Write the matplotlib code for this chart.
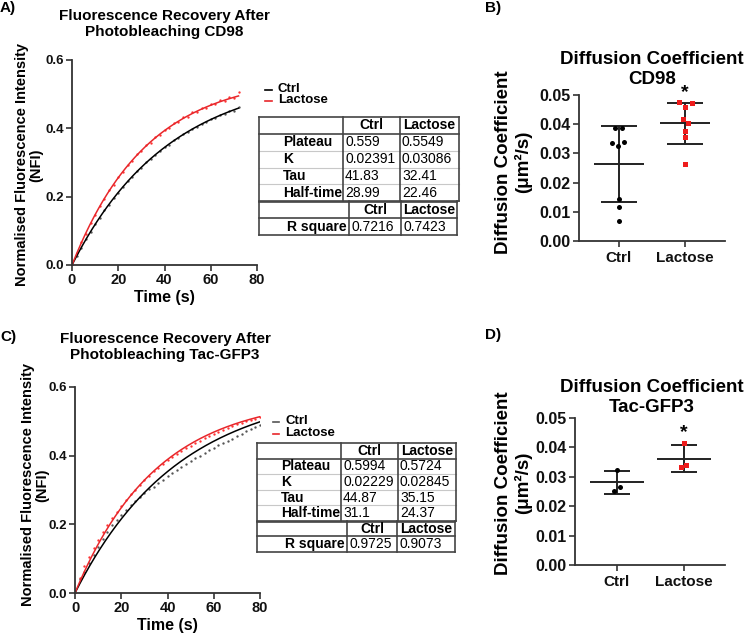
import numpy as np
import matplotlib
matplotlib.use('Agg')
import matplotlib.pyplot as plt

plt.rcParams['font.family'] = ['Liberation Sans', 'DejaVu Sans']
plt.rcParams['font.weight'] = 'bold'

W, H = 745, 633

#------------------ Datos
groups = ['Ctrl', 'Lactose']
param_names = ['Plateau', 'K', 'Tau', 'Half-time']

# FRAP CD98 (panel A)
a_params_ctrl = [0.559, 0.02391, 41.83, 28.99]
a_params_lac  = [0.5549, 0.03086, 32.41, 22.46]
a_r2          = [0.7216, 0.7423]
a_time        = np.arange(0, 73, 2)
a_ctrl = [0.000, 0.027, 0.050, 0.076, 0.097, 0.120, 0.139, 0.160, 0.177, 0.196,
          0.211, 0.229, 0.245, 0.258, 0.274, 0.285, 0.300, 0.310, 0.323, 0.333,
          0.346, 0.352, 0.365, 0.371, 0.383, 0.388, 0.399, 0.404, 0.413, 0.418,
          0.427, 0.430, 0.439, 0.442, 0.451, 0.452, 0.461]
a_lac  = [0.000, 0.035, 0.066, 0.092, 0.123, 0.146, 0.174, 0.193, 0.219, 0.235,
          0.258, 0.272, 0.293, 0.304, 0.325, 0.333, 0.352, 0.358, 0.376, 0.381,
          0.396, 0.401, 0.415, 0.418, 0.432, 0.433, 0.447, 0.448, 0.459, 0.460,
          0.471, 0.472, 0.482, 0.479, 0.493, 0.488, 0.505]

# FRAP Tac-GFP3 (panel C)
c_params_ctrl = [0.5994, 0.02229, 44.87, 31.1]
c_params_lac  = [0.5724, 0.02845, 35.15, 24.37]
c_r2          = [0.9725, 0.9073]
c_time        = np.arange(0, 81, 2)
c_ctrl = [0.000, 0.040, 0.062, 0.088, 0.112, 0.135, 0.156, 0.178, 0.197, 0.212,
          0.228, 0.242, 0.255, 0.268, 0.280, 0.290, 0.302, 0.310, 0.320, 0.330,
          0.340, 0.349, 0.358, 0.366, 0.376, 0.384, 0.392, 0.400, 0.407, 0.416,
          0.422, 0.430, 0.436, 0.444, 0.450, 0.458, 0.464, 0.471, 0.477, 0.484,
          0.490]
c_lac  = [0.000, 0.045, 0.078, 0.104, 0.130, 0.155, 0.178, 0.198, 0.218, 0.236,
          0.254, 0.270, 0.287, 0.301, 0.316, 0.329, 0.342, 0.354, 0.365, 0.376,
          0.386, 0.396, 0.404, 0.413, 0.421, 0.429, 0.437, 0.444, 0.451, 0.457,
          0.464, 0.470, 0.476, 0.481, 0.487, 0.491, 0.496, 0.500, 0.505, 0.508,
          0.512]

# Coeficiente de difusion CD98 (panel B)
b_ctrl = [0.0388, 0.0388, 0.0335, 0.0326, 0.0340, 0.0144, 0.0115, 0.0070]
b_lac  = [0.0477, 0.0472, 0.0458, 0.0418, 0.0403, 0.0378, 0.0357, 0.0263]
b_mean = [0.0264, 0.0403]
b_sd   = [0.0131, 0.0071]

# Coeficiente de difusion Tac-GFP3 (panel D)
d_ctrl = [0.0324, 0.0265, 0.0253]
d_lac  = [0.0415, 0.0335, 0.0339]
d_mean = [0.0281, 0.0362]
d_sd   = [0.0038, 0.0045]

# desplazamiento horizontal de los puntos (px)
b_ctrl_jit = [-4, 3, -7, -1, 5, 0, 0, 0]
b_lac_jit  = [-6, 7, 0, -2, 3, 0, 0, 0]
d_ctrl_jit = [0, 3, -3]
d_lac_jit  = [0, -3, 2]

SPINE = '#333333'


def add_ax(l, r, t, b):
    return fig.add_axes([l/W, 1-b/H, (r-l)/W, (b-t)/H])


def style_ax(ax, tick_size):
    for s in ['top', 'right']:
        ax.spines[s].set_visible(False)
    for s in ['left', 'bottom']:
        ax.spines[s].set_color(SPINE)
        ax.spines[s].set_linewidth(1.3)
    ax.tick_params(colors=SPINE, width=1.2, length=4, labelsize=tick_size,
                   labelcolor='#111111', pad=2)
    for lab in ax.get_xticklabels() + ax.get_yticklabels():
        lab.set_fontweight('bold')


def txt(x, y, s, **kw):
    fig.text(x/W, 1-y/H, s, **kw)


def frap_panel(ax, t, ctrl, lac, p_ctrl, p_lac, tmax):
    tt = np.linspace(0, tmax, 300)
    ax.plot(t, ctrl, 'o', color='#555555', ms=1.7, mew=0)
    ax.plot(t, lac, 'o', color='#ff3333', ms=1.7, mew=0)
    ax.plot(tt, p_ctrl[0]*(1-np.exp(-p_ctrl[1]*tt)), color='black', lw=1.1)
    ax.plot(tt, p_lac[0]*(1-np.exp(-p_lac[1]*tt)), color='#e8262a', lw=1.1)
    ax.set_xlim(0, 80)
    ax.set_ylim(0, 0.6)
    ax.set_xticks([0, 20, 40, 60, 80])
    ax.set_yticks([0, 0.2, 0.4, 0.6])
    ax.set_yticklabels(['0.0', '0.2', '0.4', '0.6'])
    style_ax(ax, 9.5)
    ax.tick_params(axis='x', labelsize=10.5)
    ax.set_xlabel('Time (s)', fontsize=11.5, fontweight='bold', labelpad=2)


def draw_table(x0, x1, xa, xb, x1b, xab, xbb, ytop, ybot, p_ctrl, p_lac, r2):
    h = (ybot - ytop) / 7.0
    dark = dict(color='#444444', lw=1.2)
    light = dict(color='#c8c8c8', lw=0.8)
    def hl(y, xl, xr, **kw):
        fig.add_artist(plt.Line2D([xl/W, xr/W], [1-y/H, 1-y/H], **kw))
    def vl(x, yt, yb, **kw):
        fig.add_artist(plt.Line2D([x/W, x/W], [1-yt/H, 1-yb/H], **kw))
    y5 = ytop + 5*h
    hl(ytop, x0, x1, **dark)
    hl(ytop + h, x0, x1, **dark)
    for k in range(2, 5):
        hl(ytop + k*h, x0, x1, **light)
    hl(y5, x0, x1, **dark)
    hl(y5 + 1.2, x0, x1b, **dark)
    hl(ytop + 6*h, x0, x1b, **dark)
    hl(ybot, x0, x1b, **dark)
    vl(x0, ytop, ybot, **dark)
    vl(x1, ytop, y5, **dark)
    vl(x1b, y5, ybot, **dark)
    vl(xa, ytop, y5, **dark)
    vl(xb, ytop, y5, **dark)
    vl(xab, y5, ybot, **dark)
    vl(xbb, y5, ybot, **dark)
    fs = 10
    txt((xa+xb)/2, ytop + h/2, groups[0], ha='center', va='center', fontsize=fs, fontweight='bold')
    txt((xb+x1)/2, ytop + h/2, groups[1], ha='center', va='center', fontsize=fs, fontweight='bold')
    for k, name in enumerate(param_names):
        yc = ytop + (k+1.5)*h
        txt(x0 + 24, yc, name, ha='left', va='center', fontsize=fs, fontweight='bold')
        txt(xa + 2, yc, str(p_ctrl[k]), ha='left', va='center', fontsize=fs, fontweight='normal')
        txt(xb + 2, yc, str(p_lac[k]), ha='left', va='center', fontsize=fs, fontweight='normal')
    txt((xab+xbb)/2, ytop + 5.5*h, groups[0], ha='center', va='center', fontsize=fs, fontweight='bold')
    txt((xbb+x1b)/2, ytop + 5.5*h, groups[1], ha='center', va='center', fontsize=fs, fontweight='bold')
    txt(xab - 2, ytop + 6.5*h, 'R square', ha='right', va='center', fontsize=fs, fontweight='bold')
    txt(xab + 2, ytop + 6.5*h, str(r2[0]), ha='left', va='center', fontsize=fs, fontweight='normal')
    txt(xbb + 2, ytop + 6.5*h, str(r2[1]), ha='left', va='center', fontsize=fs, fontweight='normal')


def scatter_panel(ax, ctrl, lac, cj, lj, mean, sd, ppu, hw, cw):
    ax.plot(np.array(cj)/ppu, ctrl, 'o', color='black', ms=3.6, mew=0, zorder=3)
    ax.plot(1 + np.array(lj)/ppu, lac, 's', color='#ee1c1c', ms=3.6, mew=0, zorder=3)
    for i in range(2):
        ax.hlines(mean[i], i - hw/ppu, i + hw/ppu, color='#222222', lw=1.4)
        ax.vlines(i, mean[i] - sd[i], mean[i] + sd[i], color='#222222', lw=1.4)
        ax.hlines([mean[i] - sd[i], mean[i] + sd[i]], i - cw/ppu, i + cw/ppu,
                  color='#222222', lw=1.4)
    ax.set_ylim(0, 0.05)
    ax.set_yticks([0, 0.01, 0.02, 0.03, 0.04, 0.05])
    ax.set_yticklabels(['0.00', '0.01', '0.02', '0.03', '0.04', '0.05'])
    ax.set_xticks([0, 1])
    ax.set_xticklabels(groups)
    style_ax(ax, 11.5)
    ax.tick_params(axis='x', length=4, labelsize=11, pad=3)


fig = plt.figure(figsize=(W/100, H/100), dpi=100)

#------------------ Panel A
axA = add_ax(72, 257, 60, 265)
frap_panel(axA, a_time, a_ctrl, a_lac, a_params_ctrl, a_params_lac, 72)
txt(164, 24, 'Fluorescence Recovery After\nPhotobleaching CD98', ha='center', va='center',
    fontsize=11, fontweight='bold', linespacing=1.15)
txt(29, 165, 'Normalised Fluorescence Intensity\n(NFI)', ha='center', va='center',
    rotation=90, fontsize=10.5, fontweight='bold', linespacing=1.05)
txt(0, 8, 'A)', ha='left', va='center', fontsize=11, fontweight='bold')
fig.add_artist(plt.Line2D([265/W, 272/W], [1-90/H]*2, color='black', lw=1.2))
fig.add_artist(plt.Line2D([265/W, 272/W], [1-101/H]*2, color='#e8262a', lw=1.2))
txt(278, 89, groups[0], ha='left', va='center', fontsize=9.5, fontweight='bold')
txt(278, 100, groups[1], ha='left', va='center', fontsize=9.5, fontweight='bold')
draw_table(259, 459, 343, 400, 457, 349, 401, 117, 235, a_params_ctrl, a_params_lac, a_r2)

#------------------ Panel C
axC = add_ax(75, 260, 387, 593)
frap_panel(axC, c_time, c_ctrl, c_lac, c_params_ctrl, c_params_lac, 80)
txt(165, 347, 'Fluorescence Recovery After\nPhotobleaching Tac-GFP3', ha='center', va='center',
    fontsize=11, fontweight='bold', linespacing=1.15)
txt(35, 485, 'Normalised Fluorescence Intensity\n(NFI)', ha='center', va='center',
    rotation=90, fontsize=10.5, fontweight='bold', linespacing=1.05)
txt(0, 337, 'C)', ha='left', va='center', fontsize=11, fontweight='bold')
fig.add_artist(plt.Line2D([273/W, 279/W], [1-422/H]*2, color='#555555', lw=1.2))
fig.add_artist(plt.Line2D([273/W, 279/W], [1-434/H]*2, color='#e8262a', lw=1.2))
txt(285, 421, groups[0], ha='left', va='center', fontsize=9.5, fontweight='bold')
txt(285, 433, groups[1], ha='left', va='center', fontsize=9.5, fontweight='bold')
draw_table(257, 456, 341, 398, 455, 347, 397, 443, 552, c_params_ctrl, c_params_lac, c_r2)

#------------------ Panel B
axB = add_ax(579, 725, 95, 241)
scatter_panel(axB, b_ctrl, b_lac, b_ctrl_jit, b_lac_jit, b_mean, b_sd, 66, 25, 18)
axB.set_xlim(-40/66, 106/66)
axB.text(1, 0.0507, '*', ha='center', va='center', fontsize=14, fontweight='bold')
txt(652, 60, 'Diffusion Coefficient', ha='center', va='center', fontsize=13.5, fontweight='bold')
txt(652, 79, 'CD98', ha='center', va='center', fontsize=13.5, fontweight='bold')
txt(514, 162, 'Diffusion Coefficient\n(μm²/s)', ha='center', va='center', rotation=90,
    fontsize=13.5, fontweight='bold', linespacing=1.15)
txt(485, 8, 'B)', ha='left', va='center', fontsize=11, fontweight='bold')

#------------------ Panel D
axD = add_ax(575, 725, 418, 565)
scatter_panel(axD, d_ctrl, d_lac, d_ctrl_jit, d_lac_jit, d_mean, d_sd, 67, 27, 13)
axD.set_xlim(-42/67, 108/67)
axD.text(1, 0.0450, '*', ha='center', va='center', fontsize=14, fontweight='bold')
txt(652, 388, 'Diffusion Coefficient', ha='center', va='center', fontsize=13.5, fontweight='bold')
txt(652, 407, 'Tac-GFP3', ha='center', va='center', fontsize=13.5, fontweight='bold')
txt(514, 483, 'Diffusion Coefficient\n(μm²/s)', ha='center', va='center', rotation=90,
    fontsize=13.5, fontweight='bold', linespacing=1.15)
txt(485, 335, 'D)', ha='left', va='center', fontsize=11, fontweight='bold')

fig.savefig('out.png', dpi=100)
